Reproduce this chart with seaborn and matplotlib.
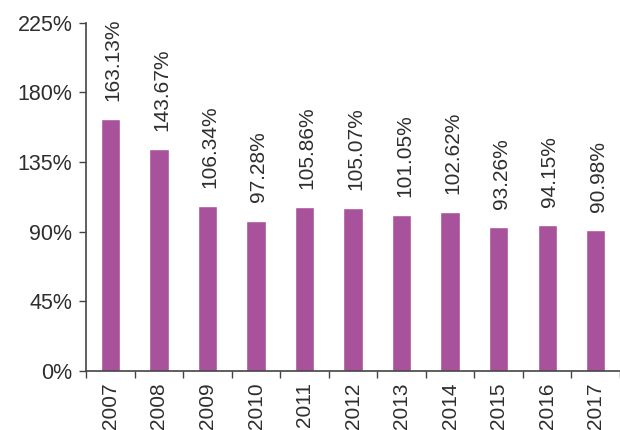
import matplotlib
matplotlib.use("Agg")
import matplotlib.pyplot as plt
import seaborn as sns
import pandas as pd
import numpy as np
from matplotlib.ticker import FixedLocator, FuncFormatter

years = ["2007", "2008", "2009", "2010", "2011", "2012", "2013", "2014", "2015", "2016", "2017"]
ratios = [163.13, 143.67, 106.34, 97.28, 105.86, 105.07, 101.05, 102.62, 93.26, 94.15, 90.98]
y_ticks = [0, 45, 90, 135, 180, 225]

sns.set_theme(style="white")
plt.rcParams["font.family"] = ["Liberation Sans", "DejaVu Sans"]

bar_color = "#a8529b"
text_color = "#2e2e2e"

df = pd.DataFrame({"year": years, "ratio": ratios})

fig = plt.figure(figsize=(6.2, 4.3), dpi=100)
ax = fig.add_axes([0.139, 0.137, 0.861, 0.81])

sns.barplot(data=df, x="year", y="ratio", color=bar_color, width=0.4,
            saturation=1, ax=ax)

ax.set_xlim(-0.5, len(years) - 0.5)
ax.set_ylim(0, 225)
ax.yaxis.set_major_locator(FixedLocator(y_ticks))
ax.yaxis.set_major_formatter(FuncFormatter(lambda v, _: f"{v:.0f}%"))

# category ticks sit between bars
ax.set_xticks(np.arange(len(years)))
ax.set_xticklabels(years, rotation=90, fontsize=15, color=text_color)
ax.set_xticks(np.arange(len(years) + 1) - 0.5, minor=True)
ax.tick_params(axis="x", which="major", length=0, pad=8)
ax.tick_params(axis="x", which="minor", length=5, width=1, color="#444444",
               direction="out", bottom=True)
ax.tick_params(axis="y", length=5, width=1, color="#444444", direction="out",
               left=True, labelsize=15.5, labelcolor=text_color, pad=5)

for s in ["top", "right"]:
    ax.spines[s].set_visible(False)
for s in ["left", "bottom"]:
    ax.spines[s].set_color("#444444")
    ax.spines[s].set_linewidth(1.2)

ax.set_xlabel("")
ax.set_ylabel("")

for i, v in enumerate(ratios):
    ax.annotate(f"{v:.2f}%", xy=(i, v), xytext=(2, 13), textcoords="offset points",
                rotation=90, ha="center", va="bottom", fontsize=15,
                color=text_color)

fig.savefig("out.png", dpi=100, facecolor="white")
